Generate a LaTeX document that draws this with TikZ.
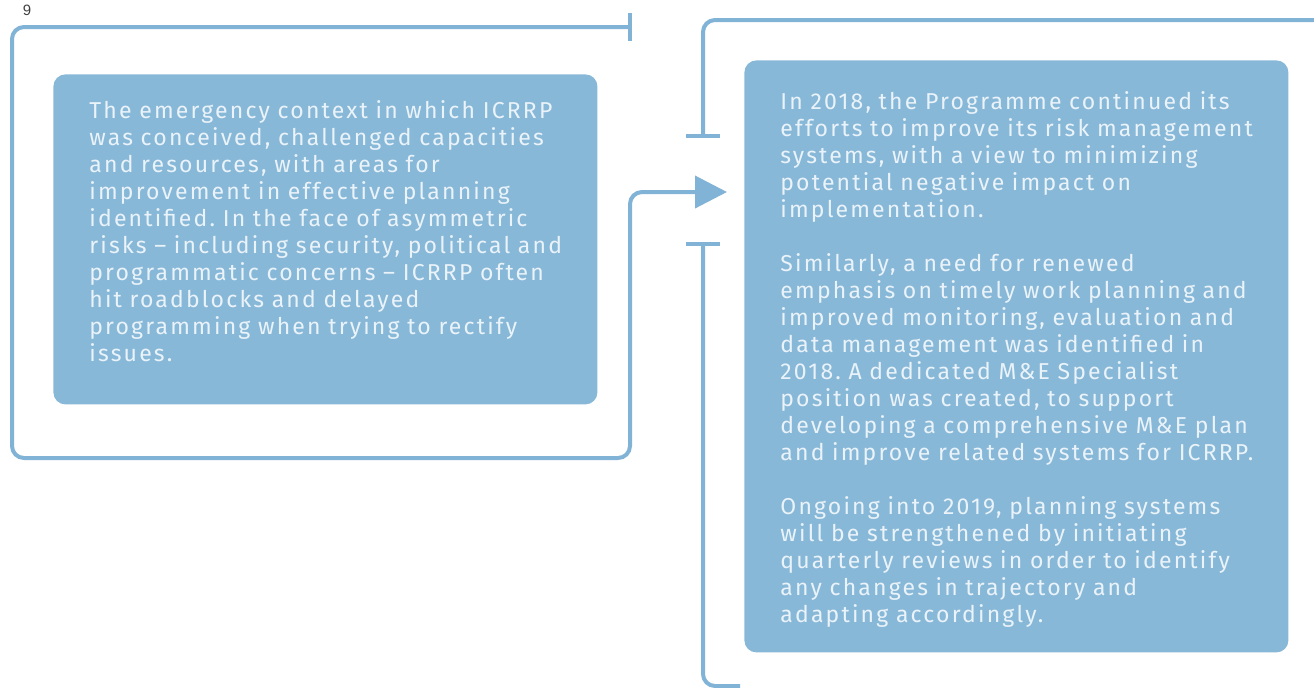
\documentclass[tikz,border=0pt]{standalone}
\usepackage{fontspec}
\setmainfont{Fira Sans}
\newfontfamily\bodyfont[LetterSpace=9.5]{Fira Sans}
\newfontfamily\pagefont{Liberation Sans}
\usetikzlibrary{arrows.meta, positioning}

\definecolor{boxblue}{HTML}{88B8D8}
\definecolor{lineblue}{HTML}{80B3D6}
\definecolor{boxtext}{HTML}{EAF3F9}

\begin{document}
\frenchspacing
\begin{tikzpicture}[
    x=0.5pt, y=-0.5pt,
    panel/.style={fill=boxblue, rounded corners=6pt, text=boxtext,
        font=\bodyfont\fontsize{11.5pt}{13.5pt}\selectfont,
        align=left, text width=236pt, inner xsep=18pt, inner ysep=0pt,
        anchor=north west},
    flow/.style={draw=lineblue, line width=2pt, rounded corners=6pt}
]

    % === Frame of the page ===
    \useasboundingbox (0,0) rectangle (1314,687);
    \node[font=\pagefont\fontsize{7.5pt}{9pt}\selectfont, text=black!75] (pagenum) at (27,10) {9};

    % === Text panels ===
    \node[panel, minimum height=165pt] (leftbox) at (53,74) {%
        The emergency context in which ICRRP\\
        was conceived, challenged capacities\\
        and resources, with areas for\\
        improvement in effective planning\\
        identified. In the face of asymmetric\\
        risks – including security, political and\\
        programmatic concerns – ICRRP often\\
        hit roadblocks and delayed\\
        programming when trying to rectify\\
        issues.\rule[-8pt]{0pt}{0pt}};

    \node[panel, minimum height=296pt] (rightbox) at (744,60) {%
        \rule{0pt}{12.5pt}In 2018, the Programme continued its\\
        efforts to improve its risk management\\
        systems, with a view to minimizing\\
        potential negative impact on\\
        implementation.\\[13.5pt]
        Similarly, a need for renewed\\
        emphasis on timely work planning and\\
        improved monitoring, evaluation and\\
        data management was identified in\\
        2018. A dedicated M\&E Specialist\\
        position was created, to support\\
        developing a comprehensive M\&E plan\\
        and improve related systems for ICRRP.\\[13.5pt]
        Ongoing into 2019, planning systems\\
        will be strengthened by initiating\\
        quarterly reviews in order to identify\\
        any changes in trajectory and\\
        adapting accordingly.};

    % === Connector ends ===
    \coordinate (lefttick) at (632,27);
    \coordinate (arrowtip) at (727,192);
    \coordinate (uppertick) at (703,138);
    \coordinate (lowertick) at (703,242);

    % Left loop into the right panel
    \draw[flow, {Bar[width=14pt]}-{Triangle[length=16pt, width=16pt]}]
        (lefttick) -- (12,27) -- (12,458) -- (630,458) -- (630,192) -- (arrowtip);

    % Right bracket, upper and lower arms
    \draw[flow, -{Bar[width=17pt]}] (1340,20) -- (703,20) -- (uppertick);
    \draw[flow, {Bar[width=17pt]}-] (lowertick) -- (703,686) -- (740,686);

\end{tikzpicture}
\end{document}
